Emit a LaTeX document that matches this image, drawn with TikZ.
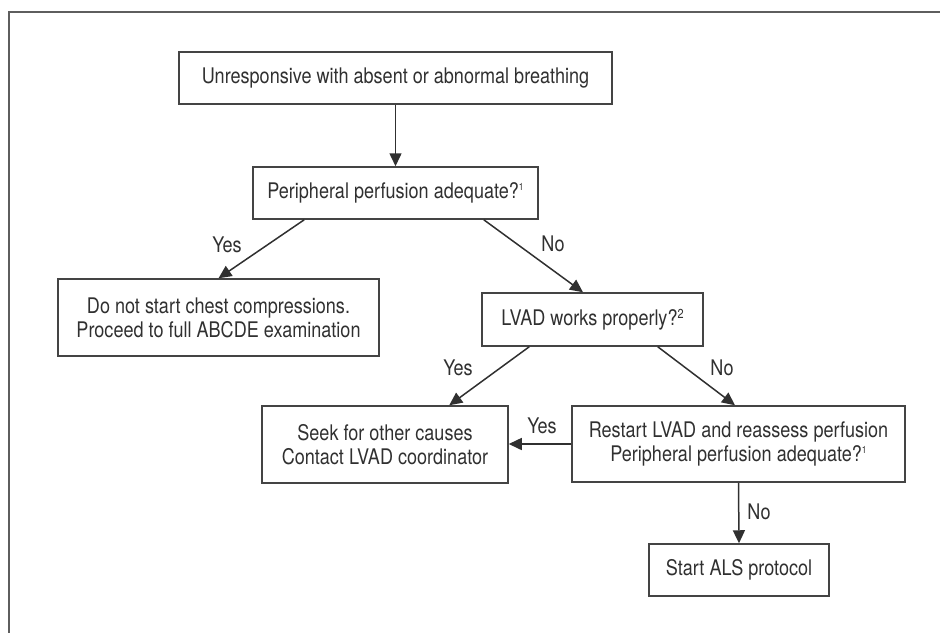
\documentclass[tikz,border=0pt]{standalone}
\usepackage{fontspec}
\setmainfont{TeX Gyre Heros}[FakeStretch=0.84]
\usetikzlibrary{arrows.meta}
\definecolor{ink}{HTML}{303030}
\definecolor{boxc}{HTML}{444444}
\definecolor{framec}{HTML}{5E5E5E}
\newcommand{\supone}{\raisebox{8.5pt}{\fontsize{10}{10}\selectfont 1}}
\newcommand{\suptwo}{\raisebox{6.5pt}{\fontsize{13}{13}\selectfont 2}}
\begin{document}
\begin{tikzpicture}[x=1pt,y=-1pt,
  txt/.style={text=ink, font=\fontsize{21.5}{24}\selectfont, align=center},
  box/.style={txt, draw=boxc, line width=1.5pt, inner sep=0pt},
  lbl/.style={txt, inner sep=0pt},
  conn/.style={draw=ink, line width=1.5pt, -{Triangle[length=13pt,width=12pt]}}
]
\useasboundingbox (0,0) rectangle (940,633);
\draw[framec, line width=2pt] (940,12) -- (9,12) -- (9,633);

\node[box, minimum width=433pt, minimum height=52pt] (A) at (395.5,78) {Unresponsive with absent or abnormal breathing};
\node[box, minimum width=285pt, minimum height=52pt] (B) at (395.5,193) {Peripheral perfusion adequate?\supone};
\node[box, minimum width=321pt, minimum height=77pt] (C) at (218.5,317.5) {Do not start chest compressions.\\Proceed to full ABCDE examination};
\node[box, minimum width=221pt, minimum height=53pt] (D) at (592.5,319.5) {LVAD works properly?\suptwo};
\node[box, minimum width=246pt, minimum height=77pt] (E) at (385,444.5) {Seek for other causes\\Contact LVAD coordinator};
\node[box, minimum width=333pt, minimum height=76pt] (F) at (738.5,444) {Restart LVAD and reassess perfusion\\Peripheral perfusion adequate?\supone};
\node[box, minimum width=180pt, minimum height=52pt] (G) at (739,570) {Start ALS protocol};

\draw[conn] (A.south) -- (B.north);
\draw[conn] ([xshift=52pt]B.south west) -- (C.north);
\draw[conn] ([xshift=-55pt]B.south east) -- ([xshift=-9.5pt]D.north);
\draw[conn] ([xshift=48pt]D.south west) -- ([xshift=188pt]E.north west);
\draw[conn] ([xshift=-46pt]D.south east) -- ([xshift=-3.5pt]F.north);
\draw[conn] (F.west) -- (F.west -| E.east);
\draw[conn] (F.south) -- (G.north);

\node[lbl] (l1) at (227,245) {Yes};
\node[lbl] (l2) at (553,243.5) {No};
\node[lbl] (l3) at (458,368) {Yes};
\node[lbl] (l4) at (722,368) {No};
\node[lbl] (l5) at (542,426) {Yes};
\node[lbl] (l6) at (759,512) {No};
\end{tikzpicture}
\end{document}
